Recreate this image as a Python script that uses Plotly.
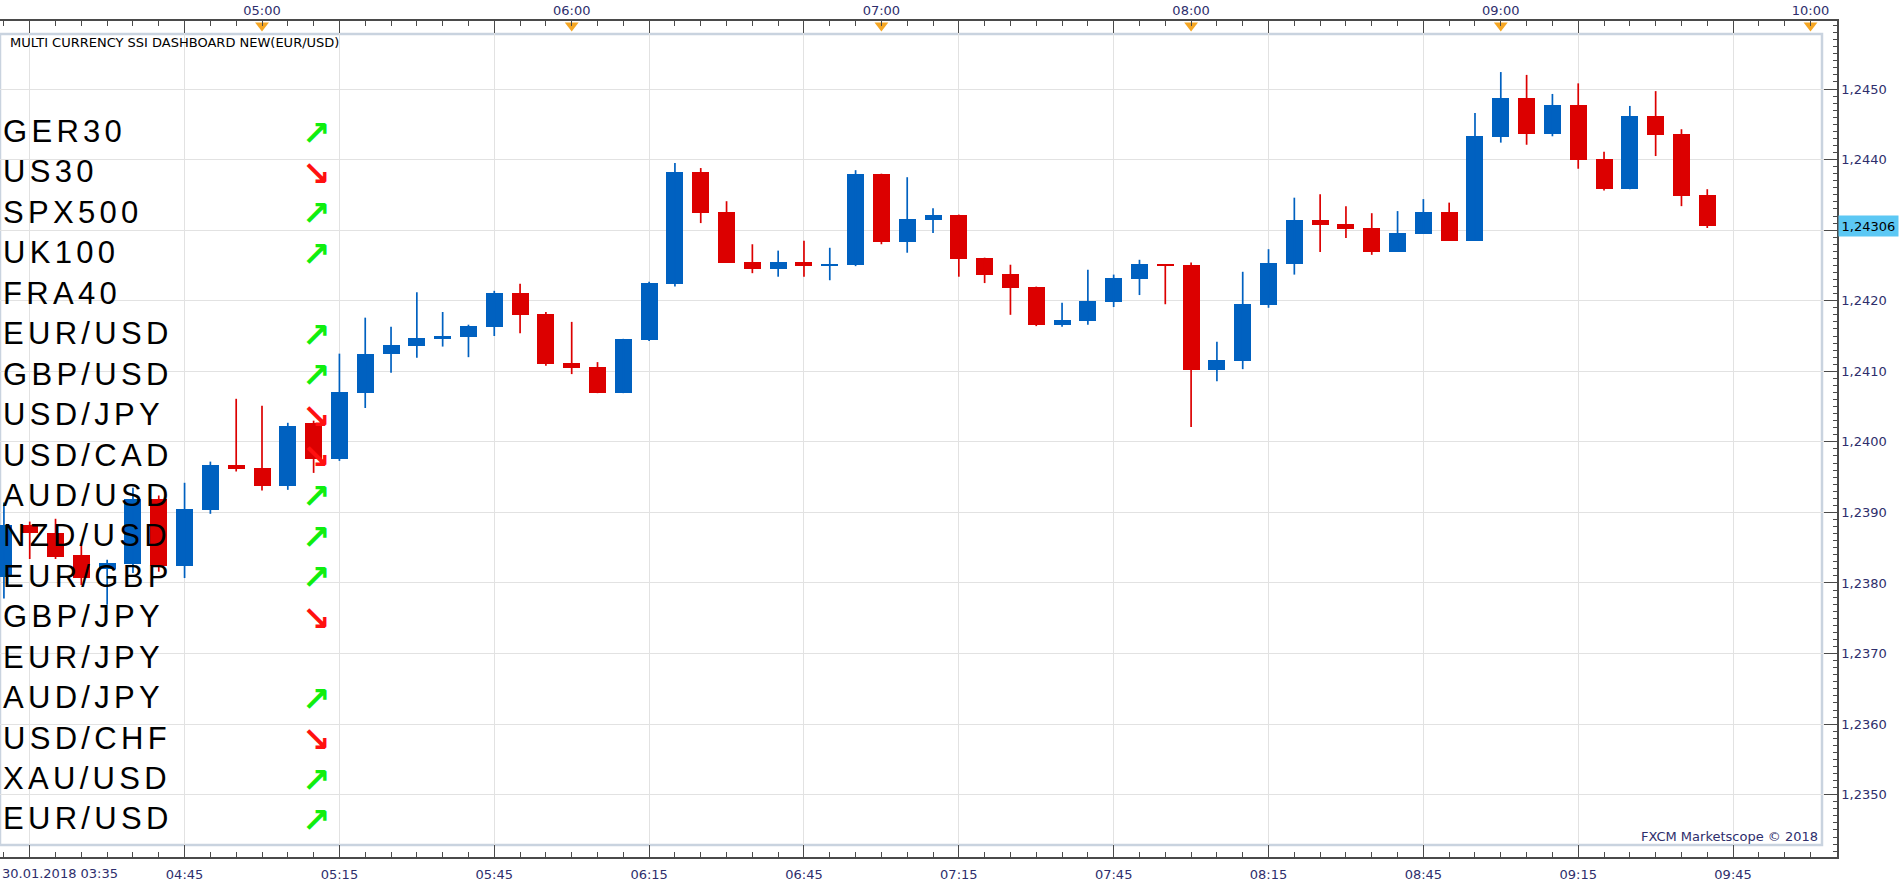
import plotly.graph_objects as go

# ---------------- data ----------------
times = ["04:10", "04:15", "04:20", "04:25", "04:30", "04:35", "04:40", "04:45", "04:50", "04:55",
         "05:00", "05:05", "05:10", "05:15", "05:20", "05:25", "05:30", "05:35", "05:40", "05:45",
         "05:50", "05:55", "06:00", "06:05", "06:10", "06:15", "06:20", "06:25", "06:30", "06:35",
         "06:40", "06:45", "06:50", "06:55", "07:00", "07:05", "07:10", "07:15", "07:20", "07:25",
         "07:30", "07:35", "07:40", "07:45", "07:50", "07:55", "08:00", "08:05", "08:10", "08:15",
         "08:20", "08:25", "08:30", "08:35", "08:40", "08:45", "08:50", "08:55", "09:00", "09:05",
         "09:10", "09:15", "09:20", "09:25", "09:30", "09:35", "09:40"]

opens = [1.23809, 1.23882, 1.23871, 1.23839, 1.23820, 1.23827, 1.23919, 1.23824, 1.23904, 1.23967,
         1.23963, 1.23938, 1.24027, 1.23975, 1.24069, 1.24125, 1.24136, 1.24146, 1.24149, 1.24163,
         1.24211, 1.24181, 1.24112, 1.24106, 1.24069, 1.24144, 1.24224, 1.24382, 1.24326, 1.24255,
         1.24245, 1.24255, 1.24249, 1.24251, 1.24380, 1.24283, 1.24314, 1.24322, 1.24261, 1.24238,
         1.24220, 1.24166, 1.24171, 1.24198, 1.24231, 1.24252, 1.24251, 1.24102, 1.24115, 1.24194,
         1.24252, 1.24314, 1.24309, 1.24303, 1.24269, 1.24295, 1.24326, 1.24285, 1.24432, 1.24487,
         1.24436, 1.24477, 1.24401, 1.24358, 1.24462, 1.24436, 1.24350]
highs = [1.23914, 1.23887, 1.23891, 1.23857, 1.23833, 1.23935, 1.23924, 1.23942, 1.23972, 1.24061,
         1.24051, 1.24027, 1.24030, 1.24125, 1.24176, 1.24163, 1.24212, 1.24184, 1.24166, 1.24214,
         1.24224, 1.24184, 1.24170, 1.24113, 1.24146, 1.24227, 1.24395, 1.24388, 1.24341, 1.24280,
         1.24271, 1.24285, 1.24275, 1.24385, 1.24380, 1.24375, 1.24331, 1.24322, 1.24261, 1.24251,
         1.24220, 1.24197, 1.24244, 1.24237, 1.24258, 1.24252, 1.24254, 1.24142, 1.24241, 1.24273,
         1.24346, 1.24351, 1.24334, 1.24324, 1.24327, 1.24344, 1.24339, 1.24466, 1.24524, 1.24520,
         1.24493, 1.24508, 1.24411, 1.24476, 1.24497, 1.24443, 1.24358]
lows = [1.23778, 1.23834, 1.23834, 1.23797, 1.23769, 1.23814, 1.23816, 1.23807, 1.23898, 1.23958,
        1.23931, 1.23932, 1.23956, 1.23973, 1.24048, 1.24098, 1.24119, 1.24135, 1.24120, 1.24150,
        1.24154, 1.24108, 1.24096, 1.24069, 1.24069, 1.24143, 1.24220, 1.24310, 1.24254, 1.24239,
        1.24234, 1.24234, 1.24229, 1.24249, 1.24280, 1.24268, 1.24296, 1.24234, 1.24225, 1.24180,
        1.24164, 1.24163, 1.24166, 1.24191, 1.24208, 1.24195, 1.24021, 1.24086, 1.24103, 1.24190,
        1.24237, 1.24269, 1.24289, 1.24265, 1.24269, 1.24295, 1.24285, 1.24285, 1.24424, 1.24421,
        1.24433, 1.24387, 1.24356, 1.24358, 1.24405, 1.24334, 1.24303]
closes = [1.23882, 1.23871, 1.23837, 1.23807, 1.23829, 1.23919, 1.23824, 1.23905, 1.23967, 1.23962,
          1.23938, 1.24023, 1.23975, 1.24071, 1.24125, 1.24137, 1.24147, 1.24150, 1.24164, 1.24211,
          1.24180, 1.24110, 1.24105, 1.24069, 1.24146, 1.24225, 1.24382, 1.24324, 1.24254, 1.24245,
          1.24255, 1.24249, 1.24252, 1.24380, 1.24283, 1.24316, 1.24322, 1.24259, 1.24237, 1.24218,
          1.24166, 1.24173, 1.24200, 1.24232, 1.24252, 1.24249, 1.24102, 1.24116, 1.24195, 1.24254,
          1.24314, 1.24307, 1.24302, 1.24269, 1.24296, 1.24326, 1.24285, 1.24433, 1.24487, 1.24436,
          1.24477, 1.24399, 1.24358, 1.24462, 1.24435, 1.24348, 1.24306]

bottom_tick_times = ["04:15", "04:45", "05:15", "05:45", "06:15", "06:45", "07:15", "07:45",
                     "08:15", "08:45", "09:15", "09:45"]
bottom_tick_labels = ["", "04:45", "05:15", "05:45", "06:15", "06:45", "07:15", "07:45",
                      "08:15", "08:45", "09:15", "09:45"]
first_label = "30.01.2018 03:35"
top_tick_times = ["05:00", "06:00", "07:00", "08:00", "09:00", "10:00"]
price_ticks = [1.2350, 1.2360, 1.2370, 1.2380, 1.2390, 1.2400, 1.2410, 1.2420, 1.2430, 1.2440, 1.2450]

symbols = ["GER30", "US30", "SPX500", "UK100", "FRA40", "EUR/USD", "GBP/USD", "USD/JPY", "USD/CAD",
           "AUD/USD", "NZD/USD", "EUR/GBP", "GBP/JPY", "EUR/JPY", "AUD/JPY", "USD/CHF", "XAU/USD", "EUR/USD"]
signals = ["up", "down", "up", "up", "", "up", "up", "down", "down",
           "up", "up", "up", "down", "", "up", "down", "up", "up"]

title_text = "MULTI CURRENCY SSI DASHBOARD NEW(EUR/USD)"
credit_text = "FXCM Marketscope © 2018"

# ---------------- helpers / style ----------------
def minutes(t):
    h, m = t.split(":")
    return int(h) * 60 + int(m)

UP = "#0061C0"
DOWN = "#DC0000"
NAVY = "#2E2E6C"
AX = "#4A4A4A"
FONT = "DejaVu Sans"
FS = 13

W, H = 1903, 887
PL, PR, PT, PB = 0, 1837, 21, 857           # plot area in px
PX_PER_MIN = (1810.5 - 262.0) / 300.0
X0 = 300 - 262.0 / PX_PER_MIN
X1 = 300 + (PR - 262.0) / PX_PER_MIN
PX_PER_PRICE = 70570.0
Y_TOP = 1.2450 + (89 - PT) / PX_PER_PRICE
Y_BOT = 1.2450 - (PB - 89) / PX_PER_PRICE

def py(pxv):   # pixel y -> paper y
    return (PB - pxv) / (PB - PT)

def pxx(pxv):  # pixel x -> paper x
    return (pxv - PL) / (PR - PL)

xs = [minutes(t) for t in times]
is_up = [c >= o for o, c in zip(opens, closes)]

fig = go.Figure()

# wicks
for flag, col in ((True, UP), (False, DOWN)):
    wx, wy = [], []
    for x, h, l, u in zip(xs, highs, lows, is_up):
        if u == flag:
            wx += [x, x, None]
            wy += [l, h, None]
    fig.add_trace(go.Scatter(x=wx, y=wy, mode="lines", line=dict(color=col, width=1.7),
                             hoverinfo="skip", showlegend=False))

# bodies
fig.add_trace(go.Bar(
    x=xs,
    y=[max(abs(c - o), 0.00002) for o, c in zip(opens, closes)],
    base=[min(o, c) for o, c in zip(opens, closes)],
    width=17.0 / PX_PER_MIN,
    marker=dict(color=[UP if u else DOWN for u in is_up], line=dict(width=0)),
    showlegend=False, hoverinfo="skip"))

# hour markers on top axis
fig.add_trace(go.Scatter(
    x=[minutes(t) for t in top_tick_times],
    y=[1.2450 + (89 - 25.5) / PX_PER_PRICE] * len(top_tick_times),
    xaxis="x2", mode="markers",
    marker=dict(symbol="triangle-down", size=12, color="#F5A623", line=dict(width=0)),
    cliponaxis=False, hoverinfo="skip", showlegend=False))

tickfont = dict(family=FONT, size=FS, color=NAVY)

fig.update_layout(
    width=W, height=H,
    margin=dict(l=PL, r=W - PR, t=PT, b=H - PB, pad=0),
    paper_bgcolor="white", plot_bgcolor="white",
    showlegend=False, bargap=0,
    xaxis=dict(
        range=[X0, X1], tickmode="array",
        tickvals=[minutes(t) for t in bottom_tick_times], ticktext=bottom_tick_labels,
        ticks="inside", ticklen=12, tickwidth=1, tickcolor=AX,
        showline=True, linecolor=AX, linewidth=1.5, mirror="ticks",
        showgrid=True, gridcolor="#E2E2E2", gridwidth=1, zeroline=False,
        tickfont=tickfont, ticklabelstandoff=5,
        minor=dict(tickmode="linear", tick0=0, dtick=5, ticks="inside", ticklen=5,
                   tickcolor=AX, tickwidth=1, showgrid=False),
    ),
    xaxis2=dict(
        overlaying="x", side="top", matches="x", anchor="y",
        tickmode="array", tickvals=[minutes(t) for t in top_tick_times], ticktext=top_tick_times,
        ticks="", showline=False, showgrid=False, zeroline=False, tickfont=tickfont,
        ticklabelstandoff=2,
    ),
    yaxis=dict(
        side="right", range=[Y_BOT, Y_TOP], tickmode="array",
        tickvals=price_ticks,
        ticktext=[("" if abs(v - 1.2430) < 1e-9 else f"{v:.4f}".replace(".", ",")) for v in price_ticks],
        ticks="inside", ticklen=13, tickwidth=1, tickcolor=AX,
        showline=True, linecolor=AX, linewidth=1.5,
        showgrid=True, gridcolor="#E2E2E2", gridwidth=1, zeroline=False,
        tickfont=tickfont,
        minor=dict(tickmode="linear", tick0=1.2350, dtick=0.0001, ticks="inside", ticklen=4,
                   tickcolor=AX, tickwidth=1, showgrid=False),
    ),
)

# inner panel frame
fig.add_shape(type="rect", xref="paper", yref="paper",
              x0=pxx(0), x1=pxx(1822), y0=py(845), y1=py(34),
              line=dict(color="#C9D3DF", width=2.5), fillcolor="rgba(0,0,0,0)", layer="between")

ann = []
ann.append(dict(text=title_text, xref="paper", yref="paper", x=pxx(8), y=py(43),
                xanchor="left", yanchor="middle", showarrow=False,
                font=dict(family=FONT, size=FS, color="black")))
ann.append(dict(text=credit_text, xref="paper", yref="paper", x=pxx(1820), y=py(836),
                xanchor="right", yanchor="middle", showarrow=False,
                font=dict(family=FONT, size=FS, color=NAVY)))
ann.append(dict(text=first_label, xref="paper", yref="paper", x=pxx(0), y=py(874),
                xanchor="left", yanchor="middle", showarrow=False,
                font=dict(family=FONT, size=FS, color=NAVY)))
ann.append(dict(text=f"{closes[-1]:.5f}".replace(".", ","), xref="paper", yref="y",
                x=pxx(1838), y=closes[-1], xanchor="left", yanchor="middle", showarrow=False,
                bgcolor="#5CC8F4", borderpad=2.5, font=dict(family=FONT, size=FS, color="black")))

ROW0, ROWSTEP = 132.5, 40.44
for i, (sym, sig) in enumerate(zip(symbols, signals)):
    yc = ROW0 + ROWSTEP * i
    ann.append(dict(text=f'<span style="letter-spacing:4.3px">{sym}</span>', xref="paper", yref="paper",
                    x=pxx(1), y=py(yc - 1), xanchor="left", yanchor="middle", showarrow=False,
                    font=dict(family="Liberation Sans", size=31, color="black")))
    if sig:
        ann.append(dict(text="<b>" + ("↗" if sig == "up" else "↘") + "</b>", xref="paper", yref="paper",
                        x=pxx(316), y=py(yc), xanchor="center", yanchor="middle", showarrow=False,
                        font=dict(family=FONT, size=34,
                                  color="#10EE10" if sig == "up" else "#FF1010")))

fig.update_layout(annotations=ann)
fig.write_html("out.html")
